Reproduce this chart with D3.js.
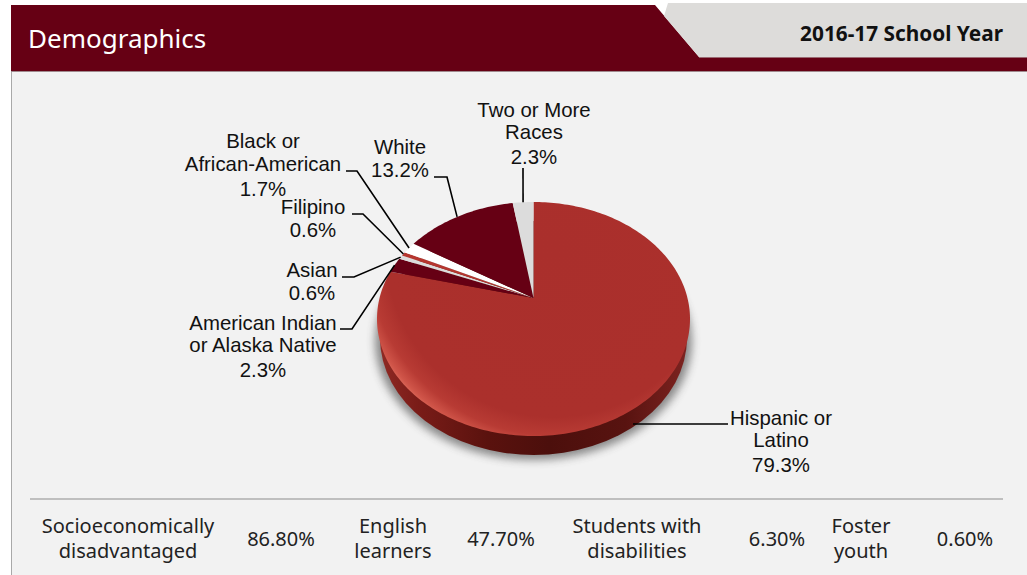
<!DOCTYPE html>
<html><head><meta charset="utf-8">
<style>html,body{margin:0;padding:0;background:#fff}svg{display:block}</style>
<script src="https://cdn.jsdelivr.net/npm/d3@7/dist/d3.min.js"></script>
</head><body><svg id="c" width="1027" height="575"></svg>
<script>
const categories = ["Hispanic or Latino","American Indian or Alaska Native","Asian","Filipino","Black or African-American","White","Two or More Races"];
const shares = [79.3,2.3,0.6,0.6,1.7,13.2,2.3];
const sliceColors = ["#aa2f2c","#660014","#dcdcdc","#b5362f","#ffffff","#660014","#dcdcdc"];
const statLabels = [["Socioeconomically","disadvantaged"],["English","learners"],["Students with","disabilities"],["Foster","youth"]];
const statValues = [86.8,47.7,6.3,0.6];
const title = "Demographics", yearLabel = "2016-17 School Year";

const svg = d3.select("#c");
const defs = svg.append("defs");
const sans = "'Liberation Sans',Arial,sans-serif", ui = "'Noto Sans',sans-serif";

// frame
svg.append("rect").attr("x",11).attr("y",71).attr("width",1016).attr("height",504).attr("fill","#f2f2f2");
svg.append("line").attr("x1",11.5).attr("x2",11.5).attr("y1",71).attr("y2",575).attr("stroke","#a9a9a9");
svg.append("path").attr("d","M11,5H655L699,57H1027V71H11Z").attr("fill","#660014");
svg.append("path").attr("d","M668,3H1027V57H699L664,16Z").attr("fill","#dddcda");
svg.append("line").attr("x1",11).attr("x2",1027).attr("y1",71.5).attr("y2",71.5).attr("stroke","#a08a8e");
svg.append("line").attr("x1",699).attr("x2",1027).attr("y1",57.5).attr("y2",57.5).attr("stroke","#9a6a72");
svg.append("text").text(title).attr("x",28).attr("y",48).attr("fill","#fff")
  .style("font",`26px ${ui}`);
svg.append("text").text(yearLabel).attr("x",1003).attr("y",41).attr("text-anchor","end").attr("fill","#111")
  .style("font",`bold 20.8px ${ui}`);

// pie geometry
const C = {x:533.5,y:319,rx:156.5,ry:117,ax:533.5,ay:298,ky:104,depth:19};
function rim(a){
  const dx = C.rx*Math.sin(a), dy = -C.ky*Math.cos(a);
  const ox = C.ax-C.x, oy = C.ay-C.y;
  const A = dx*dx/(C.rx*C.rx)+dy*dy/(C.ry*C.ry);
  const B = 2*(ox*dx/(C.rx*C.rx)+oy*dy/(C.ry*C.ry));
  const D = ox*ox/(C.rx*C.rx)+oy*oy/(C.ry*C.ry)-1;
  const t = (-B+Math.sqrt(B*B-4*A*D))/(2*A);
  return [C.ax+t*dx, C.ay+t*dy];
}
const arcs = d3.pie().sort(null).value(d=>d)(shares);
function wedge(d){
  const n = Math.max(2,Math.ceil((d.endAngle-d.startAngle)/0.02));
  const pts = [[C.ax,C.ay]];
  d3.range(n+1).forEach(i=>pts.push(rim(d.startAngle+(d.endAngle-d.startAngle)*i/n)));
  return d3.line()(pts)+"Z";
}

// shadow
const blur = defs.append("filter").attr("id","blur").attr("x","-20%").attr("y","-20%").attr("width","140%").attr("height","140%");
blur.append("feGaussianBlur").attr("stdDeviation",4.5);
svg.append("ellipse").attr("cx",C.x).attr("cy",C.y+C.depth+3).attr("rx",C.rx+2).attr("ry",C.ry+2)
  .attr("fill","#444").attr("opacity",.6).attr("filter","url(#blur)");

// side wall
const side = defs.append("linearGradient").attr("id","side").attr("x1",0).attr("x2",1).attr("y1",0).attr("y2",0);
[[0,"#8f2a24"],[.12,"#7a1c18"],[.35,"#5a120e"],[.55,"#4c0f0c"],[.8,"#581310"],[1,"#7d2320"]]
  .forEach(s=>side.append("stop").attr("offset",s[0]).attr("stop-color",s[1]));
svg.append("ellipse").attr("cx",C.x).attr("cy",C.y+C.depth).attr("rx",C.rx-3).attr("ry",C.ry).attr("fill","url(#side)");

// top face
const face = defs.append("radialGradient").attr("id","face").attr("gradientUnits","userSpaceOnUse")
  .attr("cx",C.x+20).attr("cy",C.y-70).attr("r",205);
[[0,"#aa2f2c"],[.82,"#ab302c"],[.91,"#b83b34"],[.97,"#d05549"],[1,"#e07060"]]
  .forEach(s=>face.append("stop").attr("offset",s[0]).attr("stop-color",s[1]));
svg.append("g").selectAll("path").data(arcs).join("path")
  .attr("d",wedge)
  .attr("fill",(d,i)=>i===0?"url(#face)":sliceColors[i]);

// labels and leaders
const labelLines = [
  {lines:["Hispanic or","Latino"],x:781,y:[425,447,472],path:[[728,424]],start:[633,424]},
  {lines:["American Indian","or Alaska Native"],x:263,y:[330,352,377],path:[[340,329],[352,329]]},
  {lines:["Asian"],x:312,y:[277,300],path:[[342,277],[354,277]]},
  {lines:["Filipino"],x:313,y:[214,237],path:[[352,214],[363,214]]},
  {lines:["Black or","African-American"],x:263,y:[148,171,196],path:[[346,171],[357,171]]},
  {lines:["White"],x:400,y:[154,177],path:[[434,177],[447,177]]},
  {lines:["Two or More","Races"],x:534,y:[117,139,164],path:[[523,168]]}
];
arcs.forEach((d,i)=>{
  const L = labelLines[i];
  const end = L.start || rim((d.startAngle+d.endAngle)/2);
  svg.append("path").attr("d",d3.line()(L.path.concat([end]))).attr("fill","none").attr("stroke","#000").attr("stroke-width",1.6);
  const t = svg.append("text").attr("text-anchor","middle").attr("fill","#111").style("font",`20.4px ${sans}`);
  L.lines.concat([d.data.toFixed(1)+"%"]).forEach((s,j)=>t.append("tspan").attr("x",L.x).attr("y",L.y[j]).text(s));
});

// stats row
svg.append("line").attr("x1",30).attr("x2",1003).attr("y1",499).attr("y2",499).attr("stroke","#8c8c8c").attr("stroke-width",1.2);
const labelX = d3.scaleOrdinal().domain(d3.range(4)).range([128,393,637,861]);
const valueX = d3.scaleOrdinal().domain(d3.range(4)).range([281,501,777,965]);
statLabels.forEach((ls,i)=>{
  const t = svg.append("text").attr("text-anchor","middle").attr("fill","#222").style("font",`20px ${ui}`);
  ls.forEach((s,j)=>t.append("tspan").attr("x",labelX(i)).attr("y",533+25*j).text(s));
  svg.append("text").attr("x",valueX(i)).attr("y",546).attr("text-anchor","middle").attr("fill","#222")
    .style("font",`20px ${ui}`).text(statValues[i].toFixed(2)+"%");
});
</script></body></html>
